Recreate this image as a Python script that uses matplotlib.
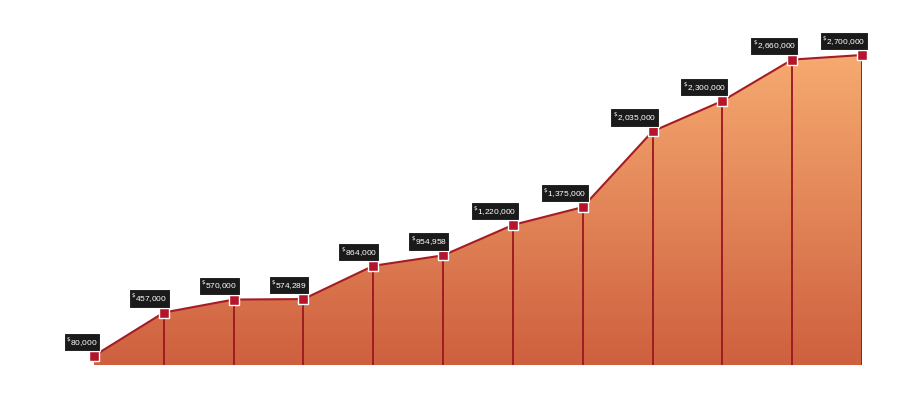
import numpy as np
import matplotlib.pyplot as plt
from matplotlib.colors import LinearSegmentedColormap
from matplotlib.patches import Polygon

values = [80000, 457000, 570000, 574289, 864000, 954958,
          1220000, 1375000, 2035000, 2300000, 2660000, 2700000]
labels = ["80,000", "457,000", "570,000", "574,289", "864,000", "954,958",
          "1,220,000", "1,375,000", "2,035,000", "2,300,000", "2,660,000", "2,700,000"]

W, H = 900, 408
fig = plt.figure(figsize=(W / 100, H / 100), dpi=100)

# plot area: x index 0..11 -> px 94..862, y 0 at px 365, 2.7M at px 55
x0, x1 = 94, 862
ybase, ytop = 365, 55
ymax = max(values) * ybase / (ybase - ytop)
ax = fig.add_axes([x0 / W, (H - ybase) / H, (x1 - x0) / W, ybase / H])
ax.set_xlim(0, len(values) - 1)
ax.set_ylim(0, ymax)
ax.axis("off")

x = np.arange(len(values))
y = np.array(values)

# gradient fill clipped to the area
cmap = LinearSegmentedColormap.from_list("g", ["#ce603f", "#f6aa70"])
grad = np.linspace(0, 1, 256).reshape(-1, 1)
img = ax.imshow(grad, cmap=cmap, origin="lower", aspect="auto",
                extent=[0, len(values) - 1, 0, max(values)], zorder=1)
poly = Polygon(np.column_stack([np.r_[x[0], x, x[-1]], np.r_[0, y, 0]]),
               closed=True, facecolor="none", edgecolor="none")
ax.add_patch(poly)
img.set_clip_path(poly)
ax.set_ylim(0, ymax)

ax.vlines(x[1:], 0, y[1:], color="#9a1620", lw=1.3, zorder=2)
ax.plot(x, y, color="#a51c24", lw=1.5, zorder=3)
ax.plot(x, y, ls="none", marker="s", ms=7, mfc="#b5152b", mec="white",
        mew=1.0, zorder=4, clip_on=False)

for xi, yi, lab in zip(x, y, labels):
    ax.annotate(r"$^{\$}$" + lab, (xi, yi), xytext=(2.5, 10),
                textcoords="offset points", ha="right", va="center",
                fontsize=6, color="white", family="Liberation Sans",
                bbox=dict(boxstyle="square,pad=0.3", fc="#1a1a1a", ec="white", lw=0.8),
                zorder=5)

fig.savefig("out.png", dpi=100)
